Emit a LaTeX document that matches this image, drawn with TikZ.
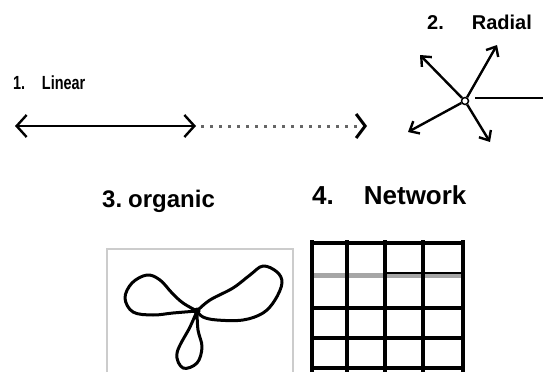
\documentclass[tikz,border=0pt]{standalone}
\usepackage{fontspec}
\setmainfont{Liberation Sans}
\usetikzlibrary{arrows.meta}

\begin{document}
\begin{tikzpicture}[x=1pt, y=-1pt,
    label/.style={anchor=base west, inner sep=0pt, font=\bfseries},
    barb/.style={-{Straight Barb[length=8pt,width=14pt]}},
    spoke/.style={line width=2.4pt, barb},
    loop/.style={line width=3pt, line join=round}]

    \useasboundingbox (0,0) rectangle (543,372);

    % 1. linear
    \node[label, font=\bfseries\fontsize{19}{19}\selectfont] (lintitle) at (13,89)
        {\scalebox{0.76}[1]{1.\hspace{22pt}Linear}};
    \coordinate (linA) at (15,126);
    \coordinate (linB) at (196,126);
    \coordinate (linC) at (367,126);
    \draw[line width=2.4pt, {Straight Barb[length=10pt,width=22pt]}-{Straight Barb[length=10pt,width=22pt]}] (linA) -- (linB);
    \draw[gray!80!black, line width=3pt, dash pattern=on 3pt off 6pt,
          -{Straight Barb[black,length=9pt,width=24pt]}] (linB) ++(5,0) -- (linC);

    % 2. radial
    \node[label, font=\bfseries\fontsize{20}{20}\selectfont] (radtitle) at (427,29)
        {2.\hspace{28pt}Radial};
    \node[draw, circle, line width=1.5pt, minimum size=7pt, inner sep=0pt] (hub) at (465,101) {};
    \coordinate (r1) at (420,55);
    \coordinate (r2) at (497,45);
    \coordinate (r3) at (408,132);
    \coordinate (r4) at (490,142);
    \coordinate (r5) at (543,98);
    \foreach \t in {r1,r2,r3,r4}
        \draw[spoke] (hub) -- (\t);
    \draw[line width=2pt] (475,98) -- (r5);

    % 3. organic
    \node[label, font=\bfseries\fontsize{24}{24}\selectfont] (orgtitle) at (102,207)
        {3.\hspace{6pt}organic};
    \draw[gray!40, line width=1.2pt] (107,372) |- (293,249) -- (293,372);
    \coordinate (knot) at (197,311);
    \draw[loop] plot[smooth, tension=0.6] coordinates {(knot) (183,303) (172,293) (160,280)
        (147,275) (132,283) (125,298) (133,312) (153,315) (173,313) (knot)};
    \draw[loop] plot[smooth, tension=0.6] coordinates {(knot) (210,300) (233,288) (250,275)
        (263,266) (277,272) (282,283) (275,300) (263,313) (243,320) (217,320) (203,317) (knot)};
    \draw[loop] plot[smooth, tension=0.6] coordinates {(knot) (190,327) (177,353) (183,368)
        (197,363) (202,347) (198,330) (knot)};
    \fill (knot) circle (3.5pt);

    % 4. network
    \node[label, font=\bfseries\fontsize{26}{26}\selectfont] (nettitle) at (312,204)
        {4.\hspace{30pt}Network};
    \draw[gray!70, line width=5pt] (312,275) -- (463,275);
    \draw[line width=2.4pt] (385,273) -- (463,273);
    \foreach \y in {243,308,338,368}
        \draw[line width=4pt] (310,\y) -- (465,\y);
    \foreach \x in {312,347,385,423,463}
        \draw[line width=4pt] (\x,240) -- (\x,372);

\end{tikzpicture}
\end{document}
